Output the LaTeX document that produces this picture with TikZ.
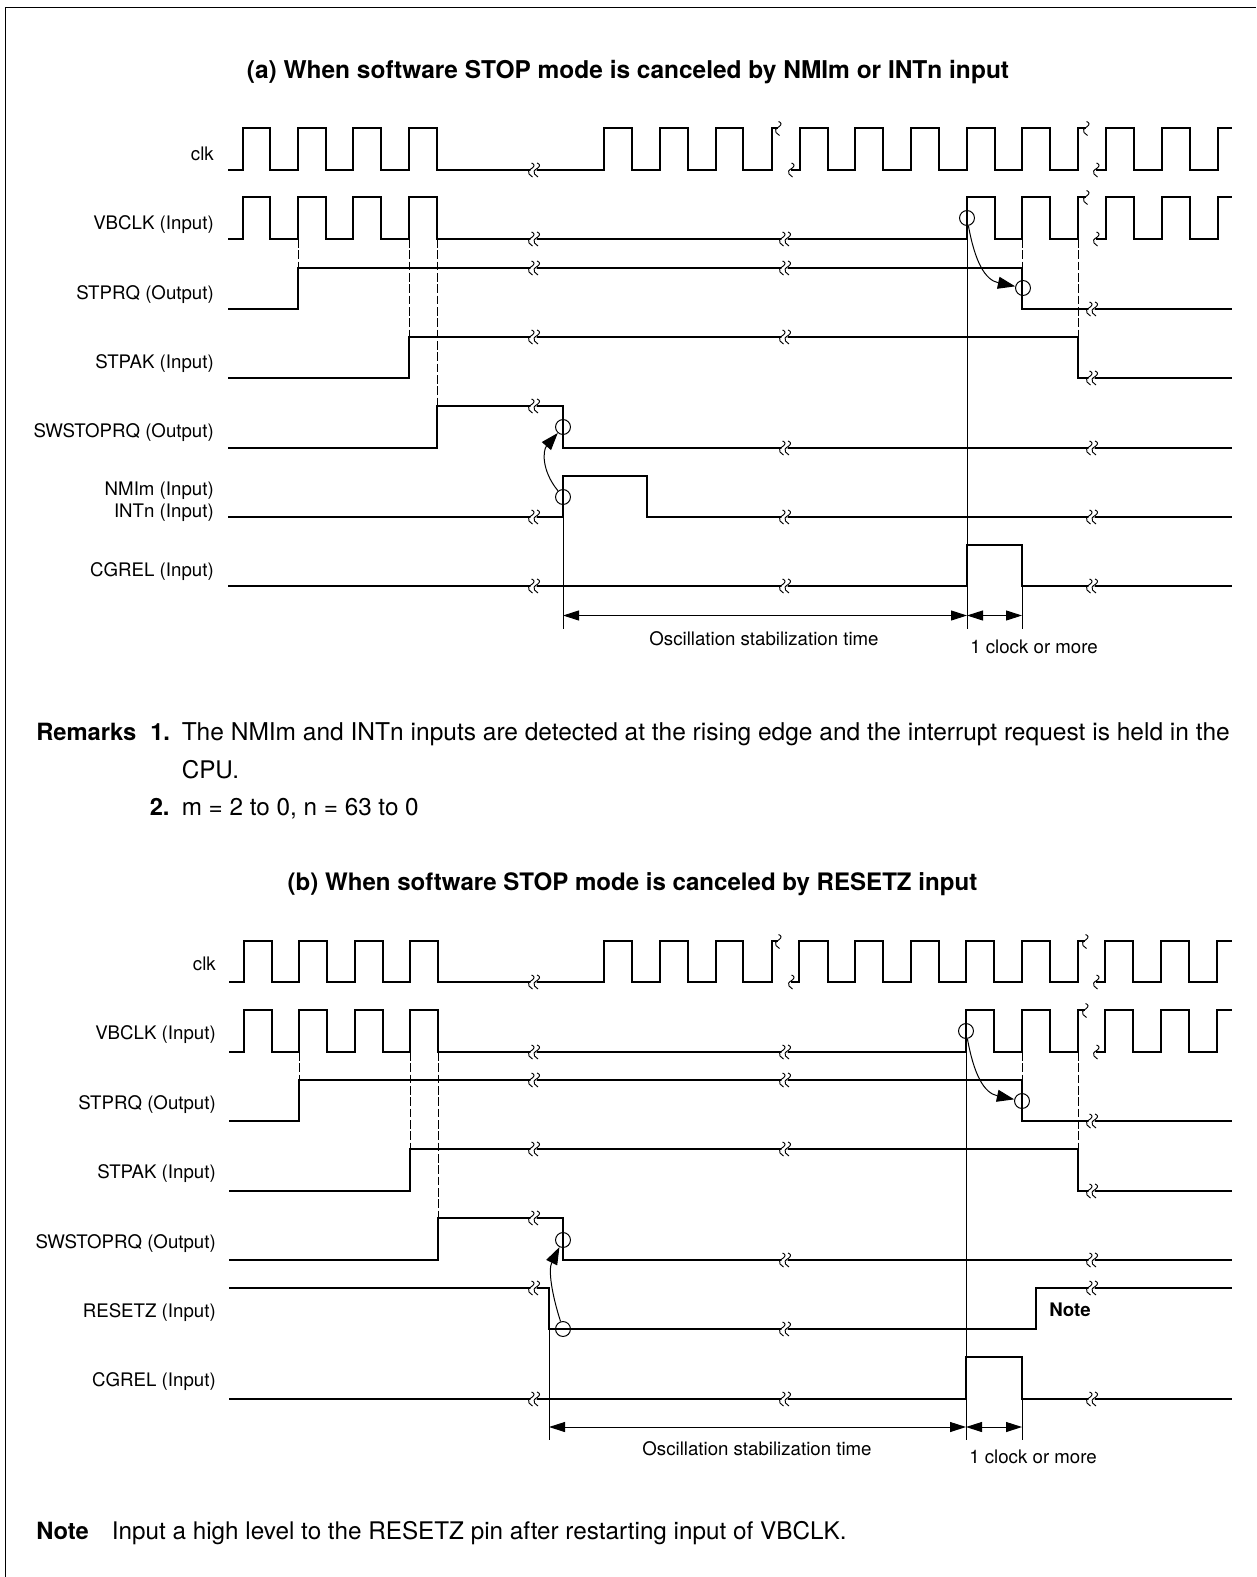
\documentclass[tikz,border=0pt]{standalone}
\usepackage{fontspec}
\setmainfont{TeX Gyre Heros}
\usetikzlibrary{arrows.meta}
\tikzset{
  sig/.style={line width=1.65pt,miter limit=10,line join=miter},
  fine/.style={line width=0.75pt},
  gone/.style={line width=0.6pt,dash pattern=on 6.5pt off 2pt},
  dimline/.style={line width=0.75pt,{Triangle[length=12pt,width=7.5pt]}-{Triangle[length=12pt,width=7.5pt]}},
  curvearrow/.style={line width=0.75pt,-{Triangle[length=13pt,width=9pt]}},
  ring/.style={circle,draw,line width=0.75pt,minimum size=11.2pt,inner sep=0pt,fill=none},
  lab/.style={inner sep=0pt,anchor=base east,font=\fontsize{14}{16}\selectfont},
  small/.style={inner sep=0pt,anchor=base,font=\fontsize{14}{16}\selectfont},
  body/.style={inner sep=0pt,anchor=base west,font=\fontsize{18.2}{20}\selectfont},
  bodyb/.style={inner sep=0pt,anchor=base west,font=\fontsize{17.8}{20}\selectfont\bfseries},
  ttl/.style={inner sep=0pt,anchor=base,font=\fontsize{18.05}{20}\selectfont\bfseries},
  squig/.pic={\draw[line width=0.7pt] (-0.5,-7) .. controls (2.5,-6) and (3,-4) .. (0,-1.8) .. controls (-3,0) and (-5,2) .. (-3,4) .. controls (-2,5) and (-1,6.2) .. (0.5,7);},
  brk/.pic={\fill[white] (-2,-3.5) -- (4,-3.5) -- (1.5,3.5) -- (-4.5,3.5) -- cycle;
    \pic at (-2,0) {squig}; \pic at (3.5,0) {squig};},
}
\begin{document}
\begin{tikzpicture}[x=0.75pt,y=-0.75pt]
\useasboundingbox (0,0) rectangle (1256,1577);
\path[fill=white] (0,0) rectangle (1256,1577);
% frame
\coordinate (fa) at (5.5,1577); \coordinate (fb) at (5.5,7.5); \coordinate (fc) at (1256,7.5);
\draw[line width=0.9pt] (fa) -- (fb) -- (fc);

% ===== Part (a)
\node[ttl,font=\fontsize{18.35}{20}\selectfont\bfseries] (ta) at (628,79) {(a) When software STOP mode is canceled by NMIm or INTn input};
\node[lab] (la1) at (214,160) {clk};
\node[lab] (la2) at (214,229.3) {VBCLK (Input)};
\node[lab] (la3) at (214,299) {STPRQ (Output)};
\node[lab] (la4) at (214,368) {STPAK (Input)};
\node[lab] (la5) at (214,437) {SWSTOPRQ (Output)};
\node[lab] (la6) at (214,495) {NMIm (Input)};
\node[lab] (la7) at (214,517) {INTn (Input)};
\node[lab] (la8) at (214,576) {CGREL (Input)};

% dashed guides
\foreach \x/\a/\b in {298/239/268,409/239/337,437/239/406,1022/239/268,1078/239/337}
  \draw[gone] (\x,\a) -- (\x,\b);
% thin guides
\coordinate (a0) at (563,517); \coordinate (a1) at (563,629);
\coordinate (a2) at (967,225); \coordinate (a3) at (967,629);
\coordinate (a4) at (1022,586); \coordinate (a5) at (1022,629);
\draw[fine] (a0) -- (a1); \draw[fine] (a2) -- (a3); \draw[fine] (a4) -- (a5);

% signals
\draw[sig] (228,170) -- (243,170) -- (243,128) -- (270,128) -- (270,170) -- (298,170) -- (298,128) -- (326,128) -- (326,170) -- (353,170) -- (353,128) -- (381,128) -- (381,170) -- (409,170) -- (409,128) -- (437,128) -- (437,170) -- (604,170) -- (604,128) -- (632,128) -- (632,170) -- (660,170) -- (660,128) -- (688,128) -- (688,170) -- (716,170) -- (716,128) -- (743,128) -- (743,170) -- (772,170) -- (772,128) -- (778,128);
\draw[sig] (791,170) -- (800,170) -- (800,128) -- (828,128) -- (828,170) -- (855,170) -- (855,128) -- (883,128) -- (883,170) -- (911,170) -- (911,128) -- (939,128) -- (939,170) -- (967,170) -- (967,128) -- (995,128) -- (995,170) -- (1022,170) -- (1022,128) -- (1050,128) -- (1050,170) -- (1078,170) -- (1078,128) -- (1086,128);
\draw[sig] (1096,170) -- (1106,170) -- (1106,128) -- (1134,128) -- (1134,170) -- (1162,170) -- (1162,128) -- (1190,128) -- (1190,170) -- (1218,170) -- (1218,128) -- (1232,128);
\draw[sig] (228,239) -- (243,239) -- (243,197) -- (270,197) -- (270,239) -- (298,239) -- (298,197) -- (326,197) -- (326,239) -- (353,239) -- (353,197) -- (381,197) -- (381,239) -- (409,239) -- (409,197) -- (437,197) -- (437,239) -- (967,239) -- (967,197) -- (995,197) -- (995,239) -- (1022,239) -- (1022,197) -- (1050,197) -- (1050,239) -- (1078,239) -- (1078,197) -- (1086,197);
\draw[sig] (1096,239) -- (1106,239) -- (1106,197) -- (1134,197) -- (1134,239) -- (1162,239) -- (1162,197) -- (1190,197) -- (1190,239) -- (1218,239) -- (1218,197) -- (1232,197);
\draw[sig] (228,309) -- (298,309) -- (298,268) -- (1022,268) -- (1022,309) -- (1232,309);
\draw[sig] (228,378) -- (409,378) -- (409,337) -- (1078,337) -- (1078,378) -- (1232,378);
\draw[sig] (228,448) -- (437,448) -- (437,406) -- (563,406) -- (563,448) -- (1232,448);
\draw[sig] (228,517) -- (563,517) -- (563,476) -- (647,476) -- (647,517) -- (1232,517);
\draw[sig] (228,586) -- (967,586) -- (967,545) -- (1022,545) -- (1022,586) -- (1232,586);

% single breaks
\pic at (779,128.5) {squig}; \pic at (792,170) {squig};
\pic at (1087,128.5) {squig}; \pic at (1097,170) {squig};
\pic at (1087,197.5) {squig}; \pic at (1097,239) {squig};
% double breaks
\foreach \x/\y in {534/170,534/239,785/239,534/268,785/268,1092/309,534/337,785/337,1092/378,534/406,785/448,1092/448,534/517,785/517,1092/517,534/586,785/586,1092/586}
  \pic at (\x,\y) {brk};

% rings and curved arrows
\node[ring] (ca1) at (967,218) {};
\node[ring] (ca2) at (1023,288) {};
\node[ring] (ca3) at (563,427) {};
\node[ring] (ca4) at (563,497) {};
\draw[curvearrow] (ca1) .. controls (975,262) and (985,280) .. (ca2);
\draw[curvearrow] (ca4) .. controls (541,470) and (543,450) .. (ca3);

% dimensions
\coordinate (d1) at (563,615.5); \coordinate (d2) at (967,615.5); \coordinate (d3) at (1022,615.5);
\draw[dimline] (d1) -- (d2);
\draw[dimline] (d2) -- (d3);
\node[small] (oa) at (764,645) {Oscillation stabilization time};
\node[small] (ka) at (1034,653) {1 clock or more};

% ===== Remarks
\node[bodyb] (r1) at (36,740.3) {Remarks};
\node[bodyb] (r2) at (150,740.3) {1.};
\node[body,font=\fontsize{18.38}{20}\selectfont] (r3) at (181.5,740.3) {The NMIm and INTn inputs are detected at the rising edge and the interrupt request is held in the};
\node[body] (r4) at (181.5,778.5) {CPU.};
\node[bodyb] (r5) at (149.5,815.5) {2.};
\node[body] (r6) at (181.5,815.5) {m = 2 to 0, n = 63 to 0};

% ===== Part (b)
\node[ttl] (tb) at (632.5,890) {(b) When software STOP mode is canceled by RESETZ input};
\node[lab] (lb1) at (216,970.3) {clk};
\node[lab] (lb2) at (216,1039) {VBCLK (Input)};
\node[lab] (lb3) at (216,1109) {STPRQ (Output)};
\node[lab] (lb4) at (216,1178) {STPAK (Input)};
\node[lab] (lb5) at (216,1248) {SWSTOPRQ (Output)};
\node[lab] (lb6) at (216,1317) {RESETZ (Input)};
\node[lab] (lb7) at (216,1386) {CGREL (Input)};

\foreach \x/\a/\b in {299/1052/1080,410/1052/1149,438/1052/1218,1022/1052/1080,1078/1052/1149}
  \draw[gone] (\x,\a) -- (\x,\b);
\coordinate (b0) at (549,1329); \coordinate (b1) at (549,1440);
\coordinate (b2) at (966,1038); \coordinate (b3) at (966,1440);
\coordinate (b4) at (1022,1399); \coordinate (b5) at (1022,1440);
\draw[fine] (b0) -- (b1); \draw[fine] (b2) -- (b3); \draw[fine] (b4) -- (b5);

\draw[sig] (229,982) -- (244,982) -- (244,941) -- (272,941) -- (272,982) -- (299,982) -- (299,941) -- (327,941) -- (327,982) -- (355,982) -- (355,941) -- (383,941) -- (383,982) -- (410,982) -- (410,941) -- (438,941) -- (438,982) -- (604,982) -- (604,941) -- (632,941) -- (632,982) -- (660,982) -- (660,941) -- (688,941) -- (688,982) -- (716,982) -- (716,941) -- (743,941) -- (743,982) -- (772,982) -- (772,941) -- (778,941);
\draw[sig] (791,982) -- (799,982) -- (799,941) -- (828,941) -- (828,982) -- (855,982) -- (855,941) -- (883,941) -- (883,982) -- (911,982) -- (911,941) -- (939,941) -- (939,982) -- (966,982) -- (966,941) -- (994,941) -- (994,982) -- (1022,982) -- (1022,941) -- (1050,941) -- (1050,982) -- (1078,982) -- (1078,941) -- (1085,941);
\draw[sig] (1096,982) -- (1105,982) -- (1105,941) -- (1133,941) -- (1133,982) -- (1161,982) -- (1161,941) -- (1189,941) -- (1189,982) -- (1217,982) -- (1217,941) -- (1232,941);
\draw[sig] (229,1052) -- (244,1052) -- (244,1010) -- (272,1010) -- (272,1052) -- (299,1052) -- (299,1010) -- (327,1010) -- (327,1052) -- (355,1052) -- (355,1010) -- (383,1010) -- (383,1052) -- (410,1052) -- (410,1010) -- (438,1010) -- (438,1052) -- (966,1052) -- (966,1010) -- (994,1010) -- (994,1052) -- (1022,1052) -- (1022,1010) -- (1050,1010) -- (1050,1052) -- (1078,1052) -- (1078,1010) -- (1085,1010);
\draw[sig] (1096,1052) -- (1105,1052) -- (1105,1010) -- (1133,1010) -- (1133,1052) -- (1161,1052) -- (1161,1010) -- (1189,1010) -- (1189,1052) -- (1217,1052) -- (1217,1010) -- (1232,1010);
\draw[sig] (229,1121) -- (299,1121) -- (299,1080) -- (1022,1080) -- (1022,1121) -- (1232,1121);
\draw[sig] (229,1191) -- (410,1191) -- (410,1149) -- (1078,1149) -- (1078,1191) -- (1232,1191);
\draw[sig] (229,1260) -- (438,1260) -- (438,1218) -- (563,1218) -- (563,1260) -- (1232,1260);
\draw[sig] (229,1288) -- (549,1288) -- (549,1329) -- (1036,1329) -- (1036,1288) -- (1232,1288);
\draw[sig] (229,1399) -- (966,1399) -- (966,1357) -- (1022,1357) -- (1022,1399) -- (1232,1399);

\pic at (779,941.5) {squig}; \pic at (792,982) {squig};
\pic at (1086,941.5) {squig}; \pic at (1097,982) {squig};
\pic at (1086,1010.5) {squig}; \pic at (1097,1052) {squig};
\foreach \x/\y in {534/982,534/1052,785/1052,534/1080,785/1080,1092/1121,534/1149,785/1149,1092/1191,534/1218,785/1260,1092/1260,534/1288,785/1329,1092/1288,534/1399,785/1399,1092/1399}
  \pic at (\x,\y) {brk};

\node[ring] (cb1) at (966,1031) {};
\node[ring] (cb2) at (1022,1101) {};
\node[ring] (cb3) at (563,1240) {};
\node[ring] (cb4) at (563,1329) {};
\draw[curvearrow] (cb1) .. controls (974,1075) and (984,1093) .. (cb2);
\draw[curvearrow] (cb4) .. controls (552,1295) and (548,1270) .. (cb3);

\coordinate (e1) at (549,1427); \coordinate (e2) at (966,1427); \coordinate (e3) at (1022,1427);
\draw[dimline] (e1) -- (e2);
\draw[dimline] (e2) -- (e3);
\node[small] (ob) at (757,1455) {Oscillation stabilization time};
\node[small] (kb) at (1033,1463) {1 clock or more};
\node[small,font=\fontsize{14}{16}\selectfont\bfseries] (nt) at (1070,1316.5) {Note};

\node[bodyb] (n1) at (36,1539.7) {Note};
\node[body] (n2) at (111.5,1539.7) {Input a high level to the RESETZ pin after restarting input of VBCLK.};
\end{tikzpicture}
\end{document}
